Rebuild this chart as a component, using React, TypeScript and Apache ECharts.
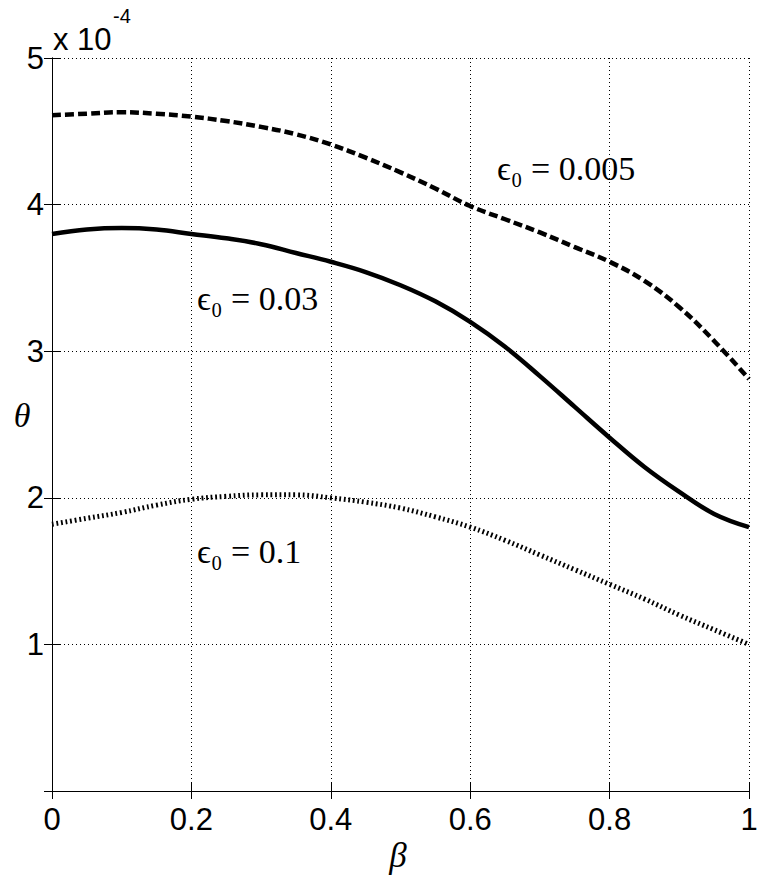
import React, { useEffect, useRef } from "react";
import * as echarts from "echarts";

const beta = [0, 0.05, 0.1, 0.15, 0.2, 0.25, 0.3, 0.35, 0.4, 0.45, 0.5, 0.55, 0.6, 0.65, 0.7, 0.75, 0.8, 0.85, 0.9, 0.95, 1.0];
const theta005 = [4.61, 4.62, 4.63, 4.62, 4.6, 4.57, 4.53, 4.48, 4.41, 4.32, 4.22, 4.11, 3.99, 3.9, 3.81, 3.71, 3.61, 3.48, 3.3, 3.07, 2.81];
const theta003 = [3.8, 3.83, 3.84, 3.83, 3.8, 3.77, 3.73, 3.67, 3.61, 3.54, 3.45, 3.34, 3.2, 3.03, 2.83, 2.62, 2.41, 2.21, 2.04, 1.89, 1.8];
const theta01 = [1.82, 1.86, 1.9, 1.95, 1.99, 2.01, 2.02, 2.02, 2.0, 1.97, 1.93, 1.87, 1.8, 1.71, 1.61, 1.51, 1.41, 1.31, 1.2, 1.1, 1.0];

const xTickLabels = ["0", "0.2", "0.4", "0.6", "0.8", "1"];
const yTickLabels = ["", "1", "2", "3", "4", "5"];
const scaleText = "x 10";
const scaleExp = "-4";
const curveLabels = ["ϵ₀ = 0.005", "ϵ₀ = 0.03", "ϵ₀ = 0.1"];
const xName = "β";
const yName = "θ";

const SANS = "'Liberation Sans', Arial, Helvetica, sans-serif";
const SERIF = "'Liberation Serif', 'DejaVu Serif', serif";

export default function App() {
  const ref = useRef<HTMLDivElement>(null);
  useEffect(() => {
    if (!ref.current) return;
    const chart = echarts.init(ref.current, undefined, { renderer: "svg" });
    const pts = (ys: number[]) => beta.map((b, i) => [b, ys[i]]);
    const axisLine = { show: true, lineStyle: { color: "#000", width: 1 } };
    const tick = { show: true, inside: true, length: 8, lineStyle: { color: "#000", width: 1 } };
    const split = { show: true, lineStyle: { color: "#000", width: 1, type: [1, 3] } };
    chart.setOption({
      animation: false,
      backgroundColor: "#fff",
      grid: { left: 52, right: 28, top: 58, bottom: 89, containLabel: false },
      xAxis: [
        {
          type: "value", min: 0, max: 1, interval: 0.2, position: "bottom",
          axisLine, axisTick: tick, splitLine: split,
          axisLabel: {
            color: "#000", fontFamily: SANS, fontSize: 31, margin: 13,
            formatter: (v: number) => xTickLabels[Math.round(v / 0.2)] ?? "",
          },
        },
        {
          type: "value", min: 0, max: 1, interval: 0.2, position: "top",
          axisLine, axisTick: tick, splitLine: { show: false }, axisLabel: { show: false },
        },
      ],
      yAxis: [
        {
          type: "value", min: 0, max: 5, interval: 1, position: "left",
          axisLine, axisTick: tick, splitLine: split,
          axisLabel: {
            color: "#000", fontFamily: SANS, fontSize: 31, margin: 8,
            formatter: (v: number) => yTickLabels[Math.round(v)] ?? "",
          },
        },
        {
          type: "value", min: 0, max: 5, interval: 1, position: "right",
          axisLine, axisTick: tick, splitLine: { show: false }, axisLabel: { show: false },
        },
      ],
      series: [
        {
          type: "line", data: pts(theta005), showSymbol: false, smooth: 0.4, clip: false,
          lineStyle: { color: "#000", width: 4.5, type: [9, 4], cap: "butt" },
        },
        {
          type: "line", data: pts(theta003), showSymbol: false, smooth: 0.4, clip: false,
          lineStyle: { color: "#000", width: 4.5, type: "solid" },
        },
        {
          type: "line", data: pts(theta01), showSymbol: false, smooth: 0.4, clip: false,
          lineStyle: { color: "#000", width: 5, type: [1.8, 2.8], cap: "butt" },
        },
      ],
      graphic: [
        { type: "text", left: 53, top: 24, style: { text: scaleText, font: `31px ${SANS}`, fill: "#000" } },
        { type: "text", left: 113, top: 6, style: { text: scaleExp, font: `20px ${SANS}`, fill: "#000" } },
        { type: "text", x: 497, y: 168, style: { text: curveLabels[0], font: `34px ${SERIF}`, fill: "#000", verticalAlign: "middle" } },
        { type: "text", x: 197, y: 298, style: { text: curveLabels[1], font: `34px ${SERIF}`, fill: "#000", verticalAlign: "middle" } },
        { type: "text", x: 197, y: 551, style: { text: curveLabels[2], font: `34px ${SERIF}`, fill: "#000", verticalAlign: "middle" } },
        { type: "text", x: 22, y: 415, style: { text: yName, font: `italic 34px ${SERIF}`, fill: "#000", align: "center", verticalAlign: "middle" } },
        { type: "text", x: 398, y: 855, style: { text: xName, font: `italic 35px ${SERIF}`, fill: "#000", align: "center", verticalAlign: "middle" } },
      ],
    });
    return () => chart.dispose();
  }, []);
  return <div ref={ref} style={{ position: "absolute", left: 0, top: 0, width: 777, height: 880 }} />;
}
